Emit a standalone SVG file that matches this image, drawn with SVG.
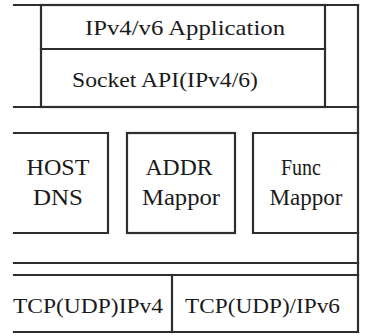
<svg xmlns="http://www.w3.org/2000/svg" width="365" height="336" viewBox="0 0 365 336" font-family="Liberation Serif, DejaVu Serif, Times New Roman, serif">
  <style>
    .ln { stroke: #2e2e2e; stroke-width: 2.2; fill: none; stroke-linecap: square; }
    .m { text-anchor: middle; }
  </style>
  <rect width="365" height="336" fill="#ffffff"/>

  <!-- application layer and socket API -->
  <g id="app-layer">
    <line class="ln" x1="14" y1="5" x2="358" y2="5"/>
    <line class="ln" x1="14" y1="107" x2="358" y2="107"/>
    <rect class="ln" x="41" y="5" width="284" height="102"/>
    <line class="ln" x1="41" y1="49" x2="325" y2="49"/>
  </g>
  <g id="labels" font-family="Liberation Serif, serif" font-size="22" fill="#1a1a1a">
    <g id="app">
      <text class="m" x="185" y="35" textLength="200" lengthAdjust="spacingAndGlyphs">IPv4/v6  Application</text>
    </g>
    <g id="socket">
      <text x="72" y="87" textLength="186" lengthAdjust="spacingAndGlyphs">Socket API(IPv4/6)</text>
    </g>
    <g id="host-dns-text" font-size="23">
      <text class="m" x="58" y="175" textLength="63" lengthAdjust="spacingAndGlyphs">HOST</text>
      <text class="m" x="58" y="205" textLength="50" lengthAdjust="spacingAndGlyphs">DNS</text>
    </g>
    <g id="addr-mappor-text" font-size="23">
      <text class="m" x="179" y="175" textLength="67" lengthAdjust="spacingAndGlyphs">ADDR</text>
      <text class="m" x="181" y="205" textLength="78" lengthAdjust="spacingAndGlyphs">Mappor</text>
    </g>
    <g id="func-mappor-text" font-size="23">
      <text class="m" x="301" y="175" textLength="40" lengthAdjust="spacingAndGlyphs">Func</text>
      <text class="m" x="306" y="205" textLength="73" lengthAdjust="spacingAndGlyphs">Mappor</text>
    </g>
    <g id="tcp-ipv4">
      <text x="13" y="313" textLength="150" lengthAdjust="spacingAndGlyphs">TCP(UDP)IPv4</text>
    </g>
    <g id="tcp-ipv6">
      <text x="185" y="313" textLength="155" lengthAdjust="spacingAndGlyphs">TCP(UDP)/IPv6</text>
    </g>
  </g>

  <!-- mapping modules -->
  <g id="host-dns">
    <polyline class="ln" points="14,133 108,133 108,233 14,233"/>
  </g>
  <g id="addr-mappor">
    <rect class="ln" x="127" y="133" width="108" height="100"/>
  </g>
  <g id="func-mappor">
    <polyline class="ln" points="358,133 253,133 253,233 358,233"/>
  </g>

  <!-- transport layer -->
  <g id="transport">
    <line class="ln" x1="14" y1="263" x2="358" y2="263"/>
    <line class="ln" x1="14" y1="275" x2="358" y2="275"/>
    <line class="ln" x1="14" y1="332" x2="358" y2="332"/>
    <line class="ln" x1="172" y1="275" x2="172" y2="332"/>
  </g>

  <!-- connectors: right-hand spine joining all layers -->
  <g id="connectors">
    <line class="ln" x1="358" y1="5" x2="358" y2="332"/>
  </g>
</svg>
